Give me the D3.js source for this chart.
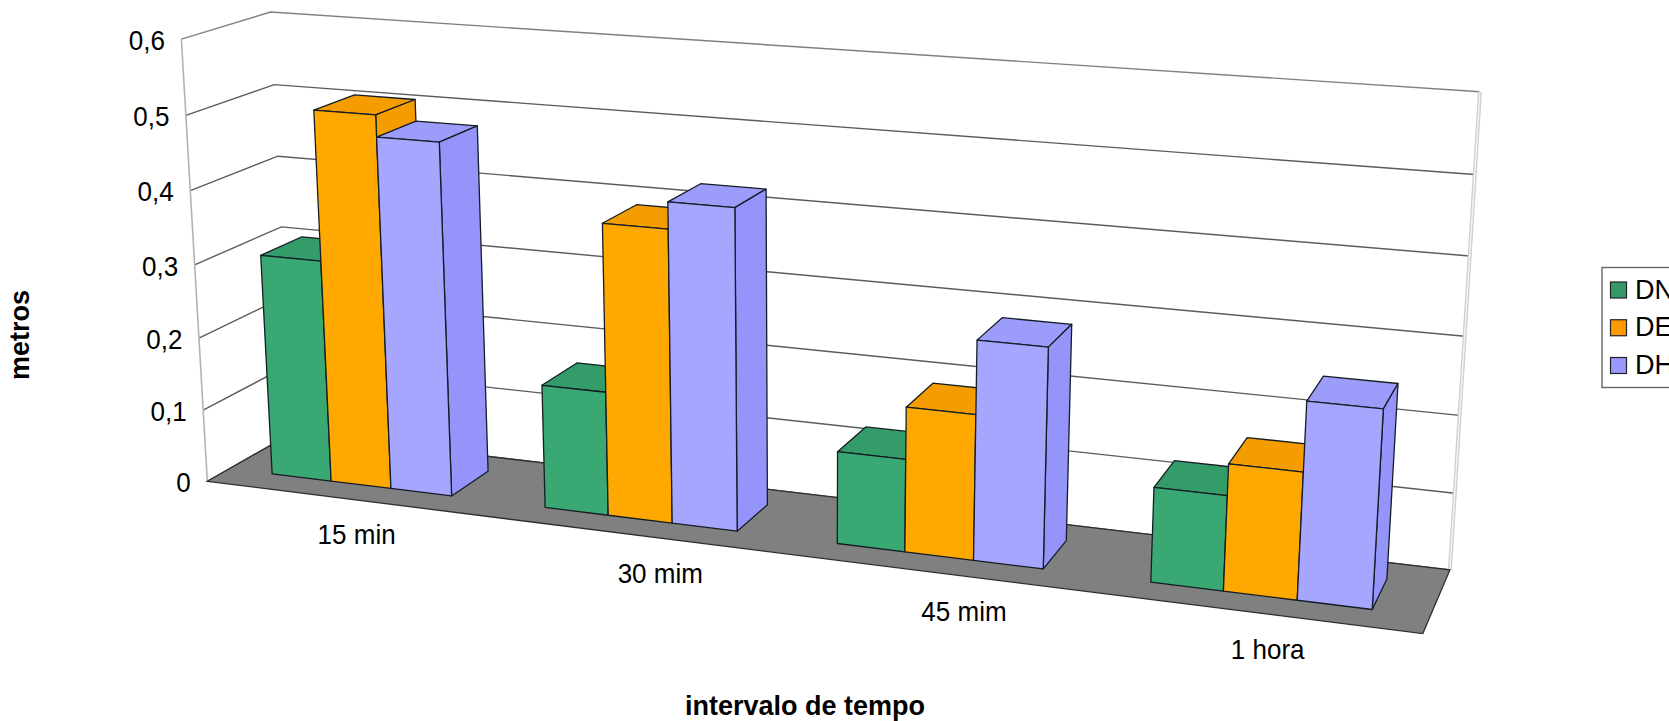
<!DOCTYPE html>
<html>
<head>
<meta charset="utf-8">
<script src="https://cdnjs.cloudflare.com/ajax/libs/d3/7.8.5/d3.min.js"></script>
<style>
html,body{margin:0;padding:0;background:#fff;overflow:hidden}
svg{display:block}
text{font-family:"Liberation Sans",Arial,sans-serif;fill:#000}
</style>
</head>
<body>
<svg id="chart" width="1669" height="721"></svg>
<script>
const categories = ["15 min", "30 mim", "45 mim", "1 hora"];
const seriesNames = ["DN", "DE", "DH"];
const dnValues = [0.305, 0.167, 0.122, 0.122];
const deValues = [0.507, 0.39, 0.19, 0.162];
const dhValues = [0.478, 0.425, 0.285, 0.25];
const seriesValues = [dnValues, deValues, dhValues];
const tickValues = [0, 0.1, 0.2, 0.3, 0.4, 0.5, 0.6];
const tickLabels = ["0", "0,1", "0,2", "0,3", "0,4", "0,5", "0,6"];
const axisTitleX = "intervalo de tempo";
const axisTitleY = "metros";

const faceColors = [
  {front: "#3aa872", top: "#339c69", side: "#339c69", legend: "#339966"},
  {front: "#ffa800", top: "#f59d00", side: "#f59d00", legend: "#ff9900"},
  {front: "#a6a6ff", top: "#9c9cfb", side: "#9494fa", legend: "#9999ff"}
];

// Camera calibration: box corners in normalised (x, height, depth) and their screen positions.
const boxCorners = [
  [0, 0, 0, 206.6, 481], [0, 1, 0, 182, 39.5], [0, 1, 1, 270, 11.7], [0, 0, 1, 292.5, 433.5],
  [1, 1, 1, 1480, 91.7], [1, 0, 1, 1449.7, 570], [1, 0, 0, 1423, 633.5]
];

function solveCamera(pts) {
  const rows = [];
  pts.forEach(([X, Y, Z, u, v]) => {
    rows.push([X, Y, Z, 1, 0, 0, 0, 0, -u * X, -u * Y, -u * Z, u]);
    rows.push([0, 0, 0, 0, X, Y, Z, 1, -v * X, -v * Y, -v * Z, v]);
  });
  const n = 11;
  const m = d3.range(n).map(i => d3.range(n + 1).map(j => d3.sum(rows, r => r[i] * r[j])));
  for (let c = 0; c < n; c++) {
    let p = c;
    for (let r = c + 1; r < n; r++) if (Math.abs(m[r][c]) > Math.abs(m[p][c])) p = r;
    [m[c], m[p]] = [m[p], m[c]];
    for (let r = 0; r < n; r++) {
      if (r === c) continue;
      const f = m[r][c] / m[c][c];
      for (let k = c; k <= n; k++) m[r][k] -= f * m[c][k];
    }
  }
  return d3.range(n).map(i => m[i][n] / m[i][i]);
}
const cam = solveCamera(boxCorners);
const project = (X, Y, Z) => {
  const w = cam[8] * X + cam[9] * Y + cam[10] * Z + 1;
  return [(cam[0] * X + cam[1] * Y + cam[2] * Z + cam[3]) / w,
          (cam[4] * X + cam[5] * Y + cam[6] * Z + cam[7]) / w];
};

const xGroup = d3.scaleBand().domain(categories).range([0, 1]).paddingInner(0.335).paddingOuter(0.165).align(0.49);
const xBar = d3.scaleBand().domain(seriesNames).range([0, xGroup.bandwidth()]);
const yHeight = d3.scaleLinear().domain([0, 0.6]).range([0, 1]);
const barDepth = {front: 0.255, back: 0.74};

// Category labels sit on an evenly spaced slanted baseline below the floor.
const labelX = d3.scalePoint().domain(categories).range([356.6, 1267.7]);
const labelY = d3.scalePoint().domain(categories).range([534.5, 649.3]);

const svg = d3.select("#chart");
const line = d3.line();
const closed = pts => line(pts) + "Z";
const textTransform = (x, y) => `translate(${x},${y}) scale(0.93,1)`;

// Left wall and back wall gridlines
const walls = svg.append("g");
tickValues.forEach(t => {
  const h = yHeight(t);
  walls.append("path")
    .attr("d", line([project(0, h, 0), project(0, h, 1), project(1, h, 1)]))
    .attr("fill", "none")
    .attr("stroke", t === 0.6 ? "#808080" : "#5c5c5c")
    .attr("stroke-width", 1.4);
});
walls.append("path")
  .attr("d", line([project(0, 0, 0), project(0, 1, 0)]))
  .attr("stroke", "#b3b3b3").attr("stroke-width", 1.6).attr("fill", "none");
walls.append("path")
  .attr("d", line([project(1, 0, 1), project(1, 1, 1)]))
  .attr("stroke", "#cfcfcf").attr("stroke-width", 4).attr("fill", "none");
walls.append("path")
  .attr("d", line([project(1, 0, 1), project(1, 1, 1)]))
  .attr("stroke", "#f4f4f4").attr("stroke-width", 1.4).attr("fill", "none");

// Floor
svg.append("path")
  .attr("d", closed([project(0, 0, 0), project(0, 0, 1), project(1, 0, 1), project(1, 0, 0)]))
  .attr("fill", "#808080").attr("stroke", "#2e2e2e").attr("stroke-width", 1.3);

// Bars, painted left to right so each one overlaps its left neighbour
const bars = categories.flatMap((c, ci) => seriesNames.map((s, si) => ({
  category: c, series: s, index: si, value: seriesValues[si][ci]
})));
const barGroups = svg.append("g").selectAll("g").data(bars).join("g")
  .attr("stroke", "#141c24").attr("stroke-width", 1.3).attr("stroke-linejoin", "round");
const corners = d => {
  const x0 = xGroup(d.category) + xBar(d.series), x1 = x0 + xBar.bandwidth();
  const h = yHeight(d.value), zf = barDepth.front, zb = barDepth.back;
  return {x0, x1, h, zf, zb};
};
barGroups.append("path")
  .attr("fill", d => faceColors[d.index].top)
  .attr("d", d => { const c = corners(d); return closed([project(c.x0, c.h, c.zf), project(c.x1, c.h, c.zf), project(c.x1, c.h, c.zb), project(c.x0, c.h, c.zb)]); });
barGroups.append("path")
  .attr("fill", d => faceColors[d.index].side)
  .attr("d", d => { const c = corners(d); return closed([project(c.x1, 0, c.zf), project(c.x1, c.h, c.zf), project(c.x1, c.h, c.zb), project(c.x1, 0, c.zb)]); });
barGroups.append("path")
  .attr("fill", d => faceColors[d.index].front)
  .attr("d", d => { const c = corners(d); return closed([project(c.x0, 0, c.zf), project(c.x0, c.h, c.zf), project(c.x1, c.h, c.zf), project(c.x1, 0, c.zf)]); });

// Value axis labels along the front edge of the left wall
svg.append("g").selectAll("text").data(tickValues).join("text")
  .attr("transform", t => { const p = project(0, yHeight(t), 0); return textTransform(p[0] - 16.5, p[1] + 1); })
  .attr("dy", "0.35em")
  .attr("text-anchor", "end")
  .attr("font-size", 28)
  .text((t, i) => tickLabels[i]);

// Category labels under the front edge of the floor
svg.append("g").selectAll("text").data(categories).join("text")
  .attr("transform", c => textTransform(labelX(c), labelY(c)))
  .attr("dy", "0.35em")
  .attr("text-anchor", "middle")
  .attr("font-size", 28)
  .text(c => c);

// Axis titles
svg.append("text")
  .attr("x", 805).attr("y", 715)
  .attr("text-anchor", "middle").attr("font-size", 27).attr("font-weight", "bold")
  .text(axisTitleX);
svg.append("text")
  .attr("transform", "translate(29,335) rotate(-90)")
  .attr("text-anchor", "middle").attr("font-size", 27).attr("font-weight", "bold")
  .text(axisTitleY);

// Legend, running off the right edge of the canvas
const legend = svg.append("g");
legend.append("rect")
  .attr("x", 1602).attr("y", 267.5).attr("width", 120).attr("height", 120)
  .attr("fill", "#fff").attr("stroke", "#666").attr("stroke-width", 1.4);
const legendRow = d3.scalePoint().domain(seriesNames).range([282, 357.5]);
const rows = legend.selectAll("g").data(seriesNames).join("g")
  .attr("transform", s => `translate(1610.5,${legendRow(s)})`);
rows.append("rect").attr("width", 16).attr("height", 16)
  .attr("fill", (s, i) => faceColors[i].legend).attr("stroke", "#222").attr("stroke-width", 1.2);
rows.append("text").attr("x", 24.5).attr("y", 16.5).attr("font-size", 27).text(s => s);
</script>
</body>
</html>
